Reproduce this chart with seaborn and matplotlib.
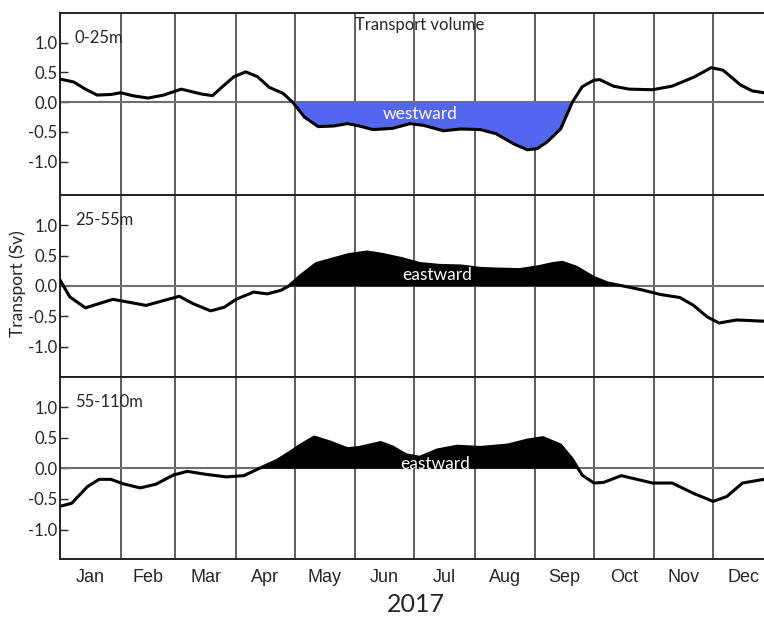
import numpy as np
import pandas as pd
import matplotlib
matplotlib.use("Agg")
import matplotlib.pyplot as plt
import seaborn as sns

# month layout (day of year, 2017)
month_names = ['Jan', 'Feb', 'Mar', 'Apr', 'May', 'Jun', 'Jul', 'Aug', 'Sep', 'Oct', 'Nov', 'Dec']
month_starts = [0, 31, 59, 90, 120, 151, 181, 212, 243, 273, 304, 334]
month_mids = [15.5, 45, 74.5, 105, 135.5, 166, 196.5, 227.5, 258, 288.5, 319, 349.5]

# 0-25m layer
day_top = [0, 7, 13, 19, 26, 31, 37, 45, 53, 62, 72, 78, 83, 89, 95, 101, 107, 114, 119,
           125, 132, 140, 147, 153, 160, 170, 179, 186, 196, 205, 215, 223, 232, 239,
           244, 249, 256, 262, 267, 273, 276, 283, 291, 303, 313, 324, 333, 339, 348, 354, 360]
sv_top = [0.39, 0.34, 0.22, 0.12, 0.13, 0.16, 0.11, 0.07, 0.12, 0.22, 0.14, 0.11, 0.26, 0.43,
          0.51, 0.43, 0.25, 0.15, 0.0, -0.25, -0.41, -0.40, -0.36, -0.40, -0.46, -0.44,
          -0.36, -0.39, -0.48, -0.45, -0.46, -0.53, -0.70, -0.80, -0.78, -0.67, -0.45,
          0.0, 0.26, 0.37, 0.38, 0.27, 0.22, 0.21, 0.27, 0.42, 0.58, 0.54, 0.29, 0.19, 0.16]

# 25-55m layer
day_mid = [0, 5, 13, 20, 27, 34, 44, 53, 61, 68, 77, 84, 90, 99, 106, 113, 117,
           123, 131, 140, 148, 157, 165, 175, 184, 194, 205, 215, 223, 235, 245, 252,
           257, 264, 273, 280, 288, 297, 307, 317, 324, 331, 337, 346, 360]
sv_mid = [0.10, -0.18, -0.36, -0.29, -0.22, -0.26, -0.32, -0.24, -0.17, -0.29, -0.41,
          -0.35, -0.22, -0.10, -0.13, -0.07, 0.0, 0.17, 0.37, 0.45, 0.52, 0.56, 0.52,
          0.45, 0.37, 0.34, 0.33, 0.29, 0.28, 0.27, 0.32, 0.37, 0.39, 0.31, 0.14, 0.05,
          0.0, -0.06, -0.14, -0.19, -0.32, -0.51, -0.61, -0.56, -0.58]

# 55-110m layer
day_bot = [0, 6, 14, 20, 26, 32, 41, 49, 58, 65, 75, 85, 94, 102, 111, 118, 122,
           130, 138, 147, 153, 164, 170, 177, 184, 193, 203, 215, 229, 239, 247, 256,
           262, 267, 273, 278, 287, 295, 303, 313, 324, 334, 341, 349, 360]
sv_bot = [-0.62, -0.57, -0.30, -0.18, -0.18, -0.25, -0.32, -0.26, -0.11, -0.05, -0.10,
          -0.14, -0.12, 0.0, 0.13, 0.27, 0.36, 0.51, 0.43, 0.32, 0.34, 0.42, 0.35, 0.22,
          0.18, 0.30, 0.36, 0.34, 0.38, 0.46, 0.50, 0.38, 0.15, -0.11, -0.24, -0.23,
          -0.12, -0.18, -0.24, -0.24, -0.41, -0.54, -0.46, -0.24, -0.18]

layers = ['0-25m', '25-55m', '55-110m']
days = [day_top, day_mid, day_bot]
values = [sv_top, sv_mid, sv_bot]
fill_sign = [-1, 1, 1]
fill_range = [(110, 270), (110, 295), (95, 270)]
fill_colors = ['#5266f2', 'black', 'black']
fill_words = ['westward', 'eastward', 'eastward']
word_pos = [(184, -0.2), (193, 0.18), (192, 0.07)]
ylims = [(-1.56, 1.5), (-1.5, 1.5), (-1.48, 1.49)]

sns.set_style("ticks")
plt.rcParams['font.family'] = ['Lato', 'DejaVu Sans']

fig = plt.figure(figsize=(7.64, 6.17), dpi=100)
panel_bounds = [(195, 13), (377, 195), (559, 377)]

for i, layer in enumerate(layers):
    b, t = panel_bounds[i]
    ax = fig.add_axes([60 / 764, 1 - b / 617, 1 - 60 / 764, (b - t) / 617])
    df = pd.DataFrame({'day': days[i], 'sv': values[i]})
    x = np.array(days[i], dtype=float)
    y = np.array(values[i])
    lo, hi = fill_range[i]
    mask = (x >= lo) & (x <= hi) & (fill_sign[i] * y >= 0)
    ax.fill_between(x, 0, y, where=mask, interpolate=True,
                    color=fill_colors[i], linewidth=0, zorder=2)
    ax.axhline(0, color='#6e6e6e', lw=1.5, zorder=1)
    sns.lineplot(data=df, x='day', y='sv', ax=ax, color='black', lw=2.2, zorder=3,
                 solid_joinstyle='round', solid_capstyle='round')

    ax.set_xlim(0, 360)
    ax.set_ylim(*ylims[i])
    ax.set_yticks([1.0, 0.5, 0.0, -0.5, -1.0])
    ax.set_yticklabels(['1.0', '0.5', '0.0', '-0.5', '-1.0'])
    ax.tick_params(axis='y', direction='in', length=6, width=1, labelsize=12, pad=2)
    ax.set_xticks(month_starts, minor=True)
    ax.set_xticks(month_mids)
    ax.tick_params(axis='x', which='both', length=0)
    ax.grid(which='minor', axis='x', color='#333333', lw=1.1)
    ax.grid(which='major', axis='x', visible=False)
    ax.set_xlabel('')
    ax.set_ylabel('')
    if i < 2:
        ax.set_xticklabels([])
    else:
        ax.set_xticklabels(month_names, fontsize=13,
                           family=['Liberation Sans Narrow', 'Liberation Sans'])
        ax.tick_params(axis='x', pad=7)
    for s in ['left', 'top', 'bottom']:
        ax.spines[s].set_color('#222222')
        ax.spines[s].set_linewidth(1.4)
    ax.spines['right'].set_visible(False)

    ax.text(0.021, 0.865, layer, transform=ax.transAxes, fontsize=12,
            ha='left', va='center')
    wx, wy = word_pos[i]
    ax.text(wx, wy, fill_words[i], color='white', fontsize=12.5,
            ha='center', va='center', zorder=4)
    if i == 0:
        ax.text(0.511, 0.934, 'Transport volume', transform=ax.transAxes,
                fontsize=12, ha='center', va='center')

fig.text(18 / 764, 1 - 284 / 617, 'Transport (Sv)', rotation=90,
         fontsize=12.5, ha='center', va='center')
fig.text(416 / 764, 1 - 605 / 617, '2017', fontsize=18,
         ha='center', va='center')

fig.savefig('out.png', dpi=100)
